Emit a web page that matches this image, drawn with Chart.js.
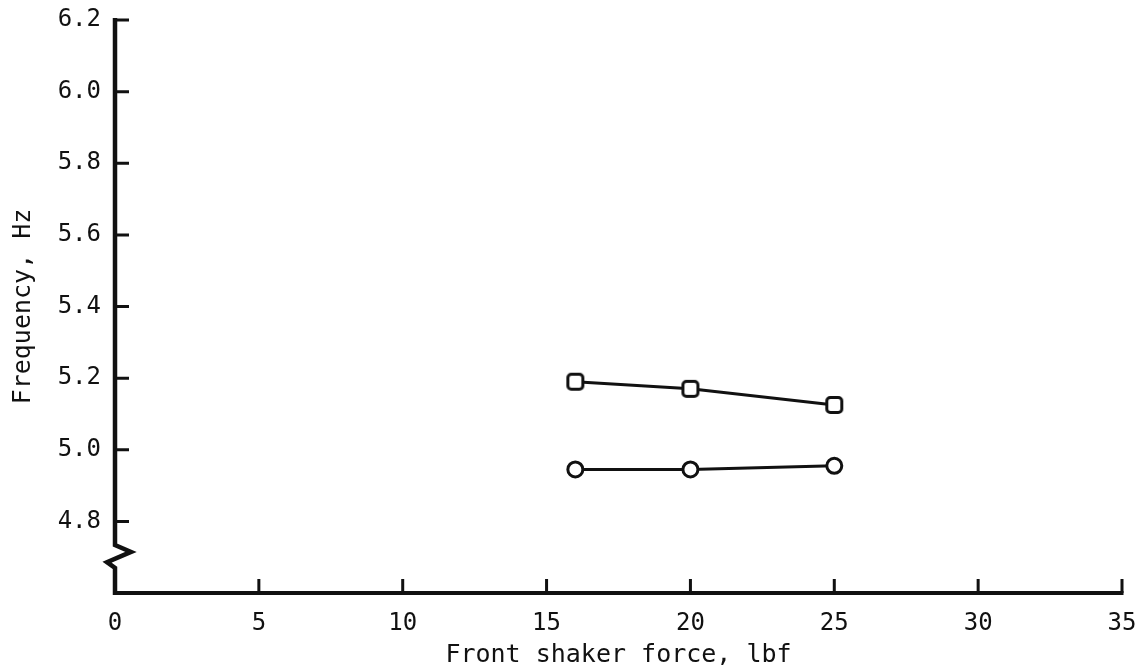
<!DOCTYPE html>
<html>
<head>
<meta charset="utf-8">
<script src="https://cdn.jsdelivr.net/npm/chart.js@4.4.1/dist/chart.umd.min.js"></script>
<style>
  html, body { margin: 0; padding: 0; background: #fff; }
  #wrap { width: 1142px; height: 672px; position: relative; }
</style>
</head>
<body>
<div id="wrap"><canvas id="c" width="1142" height="672"></canvas></div>
<script>
// Front shaker force (lbf) at which the frequencies were measured
const force = [16, 20, 25];
// Measured frequencies (Hz)
const squareFreq = [5.19, 5.17, 5.125];
const circleFreq = [4.945, 4.945, 4.955];

// Axis ranges and tick spacing
const xTicks = [0, 5, 10, 15, 20, 25, 30, 35];
const yTicks = [4.8, 5.0, 5.2, 5.4, 5.6, 5.8, 6.0, 6.2];
const yMin = 4.6, yMax = 6.2;
const xMin = 0, xMax = 35;
// Where the broken-axis zigzag sits on the frequency axis
const breakTop = 4.734, breakBottom = 4.67;

const INK = '#111';
const FONT = '"DejaVu Sans Mono", "Liberation Mono", monospace';

function pts(xs, ys) { return xs.map((x, i) => ({ x: x, y: ys[i] })); }

// Open square symbol with slightly rounded corners
function roundedSquareSymbol() {
  const size = 22, side = 15, r = 3.5, lw = 3;
  const c = document.createElement('canvas');
  c.width = size; c.height = size;
  const g = c.getContext('2d');
  const o = (size - side) / 2;
  g.beginPath();
  g.moveTo(o + r, o);
  g.arcTo(o + side, o, o + side, o + side, r);
  g.arcTo(o + side, o + side, o, o + side, r);
  g.arcTo(o, o + side, o, o, r);
  g.arcTo(o, o, o + side, o, r);
  g.closePath();
  g.fillStyle = '#fff';
  g.fill();
  g.lineWidth = lw;
  g.strokeStyle = INK;
  g.stroke();
  return c;
}

// Axes drawn as in the original figure: heavy lines, inward ticks,
// and a break symbol near the bottom of the frequency axis.
const frameAxes = {
  id: 'frameAxes',
  afterDraw(chart) {
    const { ctx, scales: { x, y } } = chart;
    const x0 = x.getPixelForValue(xMin);
    const x1 = x.getPixelForValue(xMax);
    const yb = y.getPixelForValue(yMin);
    const yt = y.getPixelForValue(yMax);
    const bt = y.getPixelForValue(breakTop);
    const bb = y.getPixelForValue(breakBottom);
    ctx.save();
    ctx.strokeStyle = INK;
    ctx.lineCap = 'butt';
    ctx.lineJoin = 'miter';

    // frequency axis with zigzag break
    ctx.lineWidth = 4.5;
    ctx.beginPath();
    ctx.moveTo(x0, yt - 2);
    ctx.lineTo(x0, bt);
    ctx.lineTo(x0 + 16, bt + (bb - bt) * 0.3);
    ctx.lineTo(x0 - 8, bt + (bb - bt) * 0.75);
    ctx.lineTo(x0, bb);
    ctx.lineTo(x0, yb + 2);
    ctx.stroke();

    // force axis
    ctx.lineWidth = 4;
    ctx.beginPath();
    ctx.moveTo(x0 - 2, yb);
    ctx.lineTo(x1 + 1.5, yb);
    ctx.stroke();

    // inward tick marks
    ctx.lineWidth = 3;
    ctx.beginPath();
    yTicks.forEach(v => {
      const p = y.getPixelForValue(v);
      ctx.moveTo(x0, p);
      ctx.lineTo(x0 + 14, p);
    });
    xTicks.forEach(v => {
      if (v === xMin) return;
      const p = x.getPixelForValue(v);
      ctx.moveTo(p, yb);
      ctx.lineTo(p, yb - 14);
    });
    ctx.stroke();
    ctx.restore();
  }
};

new Chart(document.getElementById('c'), {
  type: 'scatter',
  data: {
    datasets: [
      {
        label: 'square',
        data: pts(force, squareFreq),
        showLine: true,
        borderColor: INK,
        borderWidth: 3,
        pointStyle: roundedSquareSymbol(),
        pointRadius: 9,
        order: 1
      },
      {
        label: 'circle',
        data: pts(force, circleFreq),
        showLine: true,
        borderColor: INK,
        borderWidth: 3,
        pointStyle: 'circle',
        pointRadius: 7.5,
        pointBorderWidth: 3,
        pointBackgroundColor: '#fff',
        pointBorderColor: INK,
        order: 2
      }
    ]
  },
  options: {
    responsive: false,
    animation: false,
    layout: { padding: { top: 20, right: 20, bottom: 0, left: 0 } },
    plugins: { legend: { display: false }, tooltip: { enabled: false } },
    scales: {
      x: {
        type: 'linear',
        min: xMin, max: xMax,
        grid: { display: false, drawTicks: false },
        border: { display: false },
        afterBuildTicks(s) { s.ticks = xTicks.map(v => ({ value: v })); },
        afterFit(s) { s.height = 79; s.paddingLeft = 0; s.paddingRight = 0; },
        ticks: {
          color: INK,
          padding: 16,
          font: { family: FONT, size: 24 },
          callback: v => String(v)
        },
        title: {
          display: true,
          text: 'Front shaker force, lbf',
          color: INK,
          font: { family: FONT, size: 25 },
          padding: { top: 0, bottom: 2 }
        }
      },
      y: {
        type: 'linear',
        min: yMin, max: yMax,
        grid: { display: false, drawTicks: false },
        border: { display: false },
        afterBuildTicks(s) { s.ticks = yTicks.map(v => ({ value: v })); },
        afterFit(s) { s.width = 115; s.paddingTop = 0; s.paddingBottom = 0; },
        ticks: {
          color: INK,
          padding: 14,
          font: { family: FONT, size: 24 },
          callback: v => Number(v).toFixed(1)
        },
        title: {
          display: true,
          text: 'Frequency, Hz',
          color: INK,
          font: { family: FONT, size: 25 },
          padding: { top: 8, bottom: 0 }
        }
      }
    }
  },
  plugins: [frameAxes]
});
</script>
</body>
</html>
